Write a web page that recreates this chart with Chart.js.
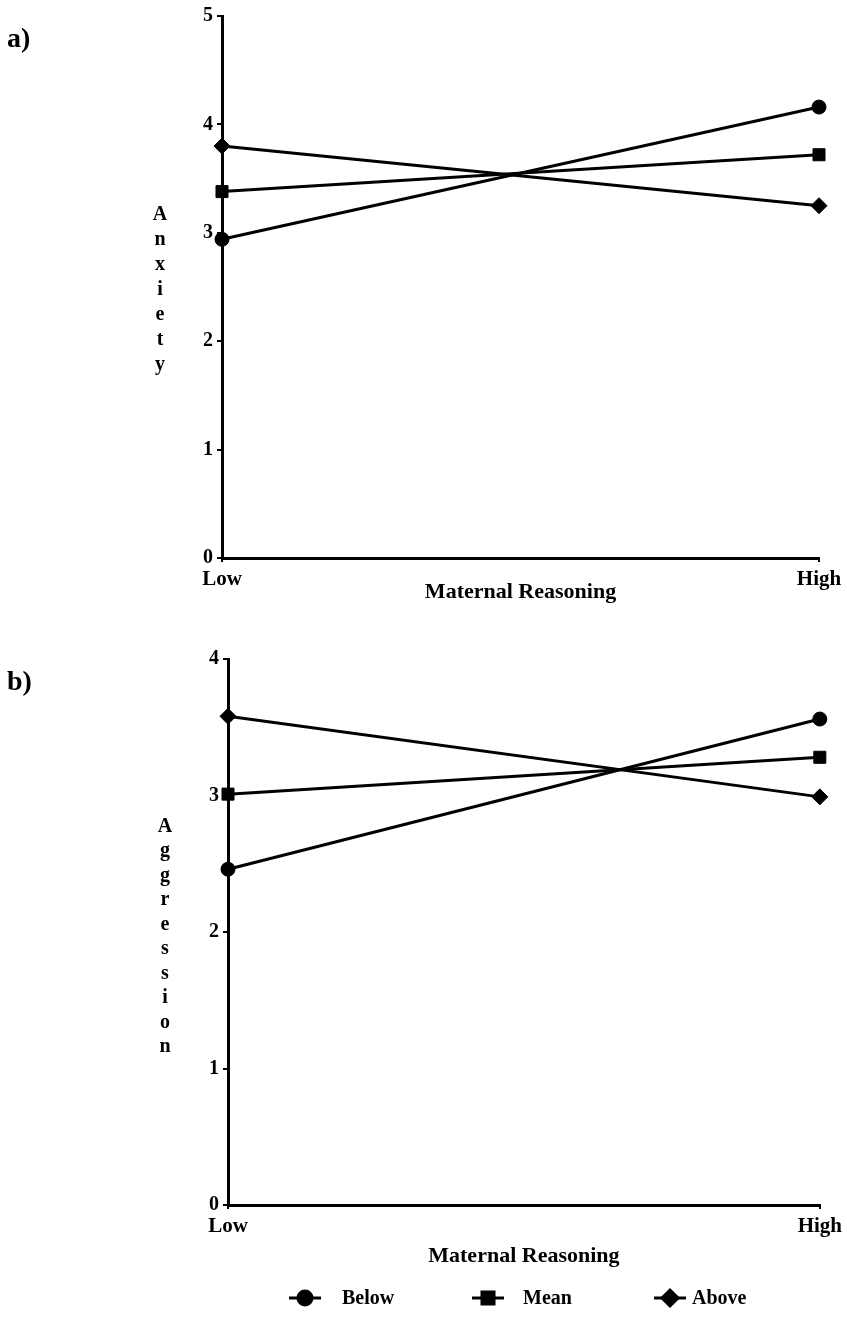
<!DOCTYPE html>
<html>
<head>
<meta charset="utf-8">
<script src="https://cdn.jsdelivr.net/npm/chart.js@4.4.1/dist/chart.umd.min.js"></script>
<style>
  html, body { margin: 0; padding: 0; background: #fff; }
  body { width: 847px; height: 1318px; position: relative; overflow: hidden; }
  canvas { position: absolute; left: 0; }
  #chartA { top: 0; }
  #chartB { top: 630px; }
</style>
</head>
<body>
<canvas id="chartA" width="847" height="630"></canvas>
<canvas id="chartB" width="847" height="688"></canvas>
<script>
// ---- data ----
const categories = ['Low', 'High'];
const seriesNames = ['Below', 'Mean', 'Above'];
const anxietyBelow = [2.94, 4.16];
const anxietyMean = [3.38, 3.72];
const anxietyAbove = [3.80, 3.25];
const aggressionBelow = [2.46, 3.56];
const aggressionMean = [3.01, 3.28];
const aggressionAbove = [3.58, 2.99];
const anxietyMax = 5;
const aggressionMax = 4;
const xTitle = 'Maternal Reasoning';
const anxietyLabel = 'Anxiety';
const aggressionLabel = 'Aggression';
const panelA = 'a)';
const panelB = 'b)';

const FONT = "'Liberation Serif', 'Times New Roman', serif";
const pointStyles = ['circle', 'rect', 'rectRot'];
const pointRadii = [7, 8.5, 8];

function makeDatasets(values) {
  return values.map((v, i) => ({
    label: seriesNames[i],
    data: v,
    borderColor: '#000',
    backgroundColor: '#000',
    borderWidth: 3,
    pointStyle: pointStyles[i],
    pointRadius: pointRadii[i],
    pointBackgroundColor: '#000',
    pointBorderColor: '#000',
    pointBorderWidth: 1,
    tension: 0,
    clip: false
  }));
}

// stacked vertical letters + panel label
const sidePlugin = {
  id: 'sideText',
  afterDraw(chart, args, opts) {
    const ctx = chart.ctx;
    const ca = chart.chartArea;
    ctx.save();
    ctx.fillStyle = '#000';
    ctx.textAlign = 'center';
    ctx.textBaseline = 'middle';
    ctx.font = 'bold 20px ' + FONT;
    const letters = opts.word.split('');
    const step = opts.step;
    const mid = (ca.top + ca.bottom) / 2 + opts.dy;
    const start = mid - step * (letters.length - 1) / 2;
    letters.forEach((ch, i) => {
      ctx.fillText(ch, ca.left - opts.dx, start + i * step);
    });
    ctx.textAlign = 'left';
    ctx.font = 'bold 28px ' + FONT;
    ctx.fillText(opts.panel, 7, ca.top + 24);
    ctx.restore();
  }
};

const legendPlugin = {
  id: 'bottomLegend',
  afterDraw(chart, args, opts) {
    if (!opts.show) return;
    const ctx = chart.ctx;
    const y = opts.y;
    ctx.save();
    chart.data.datasets.forEach((ds, i) => {
      const cx = opts.markers[i];
      ctx.strokeStyle = '#000';
      ctx.lineWidth = 3;
      ctx.beginPath();
      ctx.moveTo(cx - 16, y);
      ctx.lineTo(cx + 16, y);
      ctx.stroke();
      ctx.fillStyle = '#000';
      Chart.helpers.drawPoint(ctx, {pointStyle: ds.pointStyle, radius: ds.pointRadius, borderWidth: 1}, cx, y);
      ctx.fill();
      ctx.font = 'bold 20px ' + FONT;
      ctx.textAlign = 'left';
      ctx.textBaseline = 'middle';
      ctx.fillText(ds.label, opts.texts[i], y + 1);
    });
    ctx.restore();
  }
};

function makeChart(id, values, maxY, cfg) {
  return new Chart(document.getElementById(id), {
    type: 'line',
    data: { labels: categories, datasets: makeDatasets(values) },
    plugins: [sidePlugin, legendPlugin],
    options: {
      responsive: false,
      animation: false,
      devicePixelRatio: 1,
      layout: { padding: { top: cfg.padTop, right: cfg.padRight, left: 0, bottom: cfg.padBottom } },
      plugins: {
        legend: { display: false },
        tooltip: { enabled: false },
        sideText: { word: cfg.word, step: cfg.step, dx: cfg.dx, dy: cfg.dy, panel: cfg.panel },
        bottomLegend: cfg.legend
      },
      scales: {
        x: {
          type: 'category',
          offset: false,
          afterFit(scale) { scale.height = cfg.xHeight; },
          grid: { display: true, drawOnChartArea: false, drawTicks: true, tickLength: 4, color: '#000', lineWidth: 2 },
          border: { display: true, color: '#000', width: 3 },
          ticks: { color: '#000', padding: 5, autoSkip: false, maxRotation: 0, font: { family: FONT, size: 21, weight: 'bold' } },
          title: { display: true, text: xTitle, color: '#000', font: { family: FONT, size: 22, weight: 'bold' }, padding: { top: 0, bottom: cfg.titlePad } }
        },
        y: {
          min: 0,
          max: maxY,
          afterFit(scale) { scale.width = cfg.yWidth; },
          grid: { display: true, drawOnChartArea: false, drawTicks: true, tickLength: 5, color: '#000', lineWidth: 2 },
          border: { display: true, color: '#000', width: 3 },
          ticks: { stepSize: 1, color: '#000', padding: 4, font: { family: FONT, size: 20, weight: 'bold' } }
        }
      }
    }
  });
}

makeChart('chartA', [anxietyBelow, anxietyMean, anxietyAbove], anxietyMax, {
  padTop: 13, padRight: 28, padBottom: 0, yWidth: 222, xHeight: 72, titlePad: 24,
  word: anxietyLabel, step: 25, dx: 62, dy: 3, panel: panelA,
  legend: { show: false }
});

makeChart('chartB', [aggressionBelow, aggressionMean, aggressionAbove], aggressionMax, {
  padTop: 29, padRight: 24, padBottom: 46, yWidth: 228, xHeight: 67, titlePad: 2,
  word: aggressionLabel, step: 24.5, dx: 63, dy: 5, panel: panelB,
  legend: { show: true, y: 668, markers: [305, 488, 670], texts: [342, 523, 692] }
});
</script>
</body>
</html>
